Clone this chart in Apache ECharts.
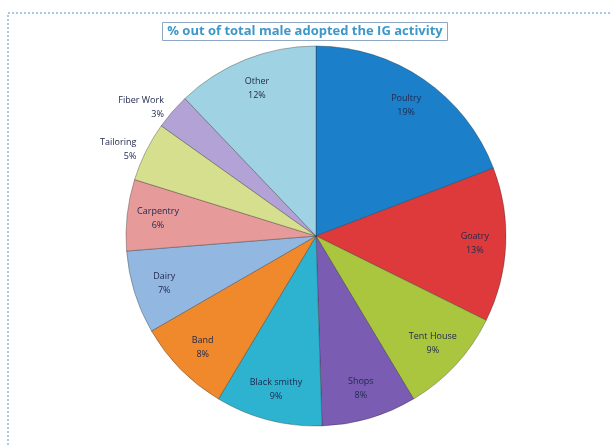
<!DOCTYPE html>
<html lang="en">
<head>
    <meta charset="UTF-8">
    <title>ECharts</title>
    <script src="https://cdn.jsdelivr.net/npm/echarts@6/dist/echarts.min.js"></script>
</head>
<body style="margin:0;background:#fff;">
    <div id="main" style="width:610px;height:446px;"></div>
    <script>
        // activity categories, clockwise from 12 o'clock
        var categories = ['Poultry', 'Goatry', 'Tent House', 'Shops', 'Black smithy', 'Band',
                          'Dairy', 'Carpentry', 'Tailoring', 'Fiber Work', 'Other'];
        var shares = [19, 13, 9, 8, 9, 8, 7, 6, 5, 3, 12];
        var colors = ['#1c7fc9', '#de3a3b', '#a9c63e', '#7a5cb3', '#2db2cf', '#f0892b',
                      '#92b8e2', '#e79a9a', '#d5df8e', '#b3a2d6', '#9fd2e2'];
        var outsideLabels = ['Tailoring', 'Fiber Work'];

        var myChart = echarts.init(document.getElementById('main'));

        var pieData = categories.map(function (name, i) {
            return {
                name: name,
                value: shares[i],
                itemStyle: { color: colors[i] }
            };
        });

        var labelData = categories.map(function (name, i) {
            var out = outsideLabels.indexOf(name) >= 0;
            return {
                name: name,
                value: shares[i],
                label: { show: !out }
            };
        });

        var outData = categories.map(function (name, i) {
            var out = outsideLabels.indexOf(name) >= 0;
            return {
                name: name,
                value: shares[i],
                label: { show: out }
            };
        });

        var labelStyle = {
            formatter: '{b}\n{c}%',
            color: '#222a50',
            fontFamily: 'Open Sans',
            fontSize: 9,
            lineHeight: 14,
            align: 'center'
        };

        var option = {
            animation: false,
            title: {
                text: '% out of total male adopted the IG activity',
                left: 'center',
                top: 22,
                padding: [3, 5, 3, 5],
                borderColor: '#8da7c4',
                borderWidth: 1,
                textStyle: {
                    color: '#3d97c9',
                    fontSize: 13,
                    fontWeight: 'bold',
                    fontFamily: 'Open Sans'
                }
            },
            graphic: [{
                type: 'rect',
                shape: { x: 8, y: 13, width: 610, height: 440 },
                style: { fill: 'none', stroke: '#a9c8e6', lineWidth: 2, lineDash: [2, 2] },
                silent: true
            }],
            series: [{
                type: 'pie',
                center: [316, 236],
                radius: [0, 190],
                startAngle: 90,
                clockwise: true,
                label: { show: false },
                labelLine: { show: false },
                itemStyle: { borderColor: 'rgba(40,40,40,0.35)', borderWidth: 1 },
                data: pieData
            }, {
                // transparent ring used only to place the in-slice labels
                type: 'pie',
                center: [316, 236],
                radius: [122, 190],
                startAngle: 90,
                silent: true,
                itemStyle: { color: 'rgba(0,0,0,0)' },
                label: Object.assign({ position: 'inside' }, labelStyle),
                labelLine: { show: false },
                data: labelData
            }, {
                type: 'pie',
                center: [316, 236],
                radius: [0, 190],
                startAngle: 90,
                silent: true,
                itemStyle: { color: 'rgba(0,0,0,0)' },
                label: Object.assign({ position: 'outside', distanceToLabelLine: 0 }, labelStyle),
                labelLine: { show: false, length: 6, length2: 4 },
                data: outData
            }]
        };

        myChart.setOption(option);
    </script>
</body>
</html>
